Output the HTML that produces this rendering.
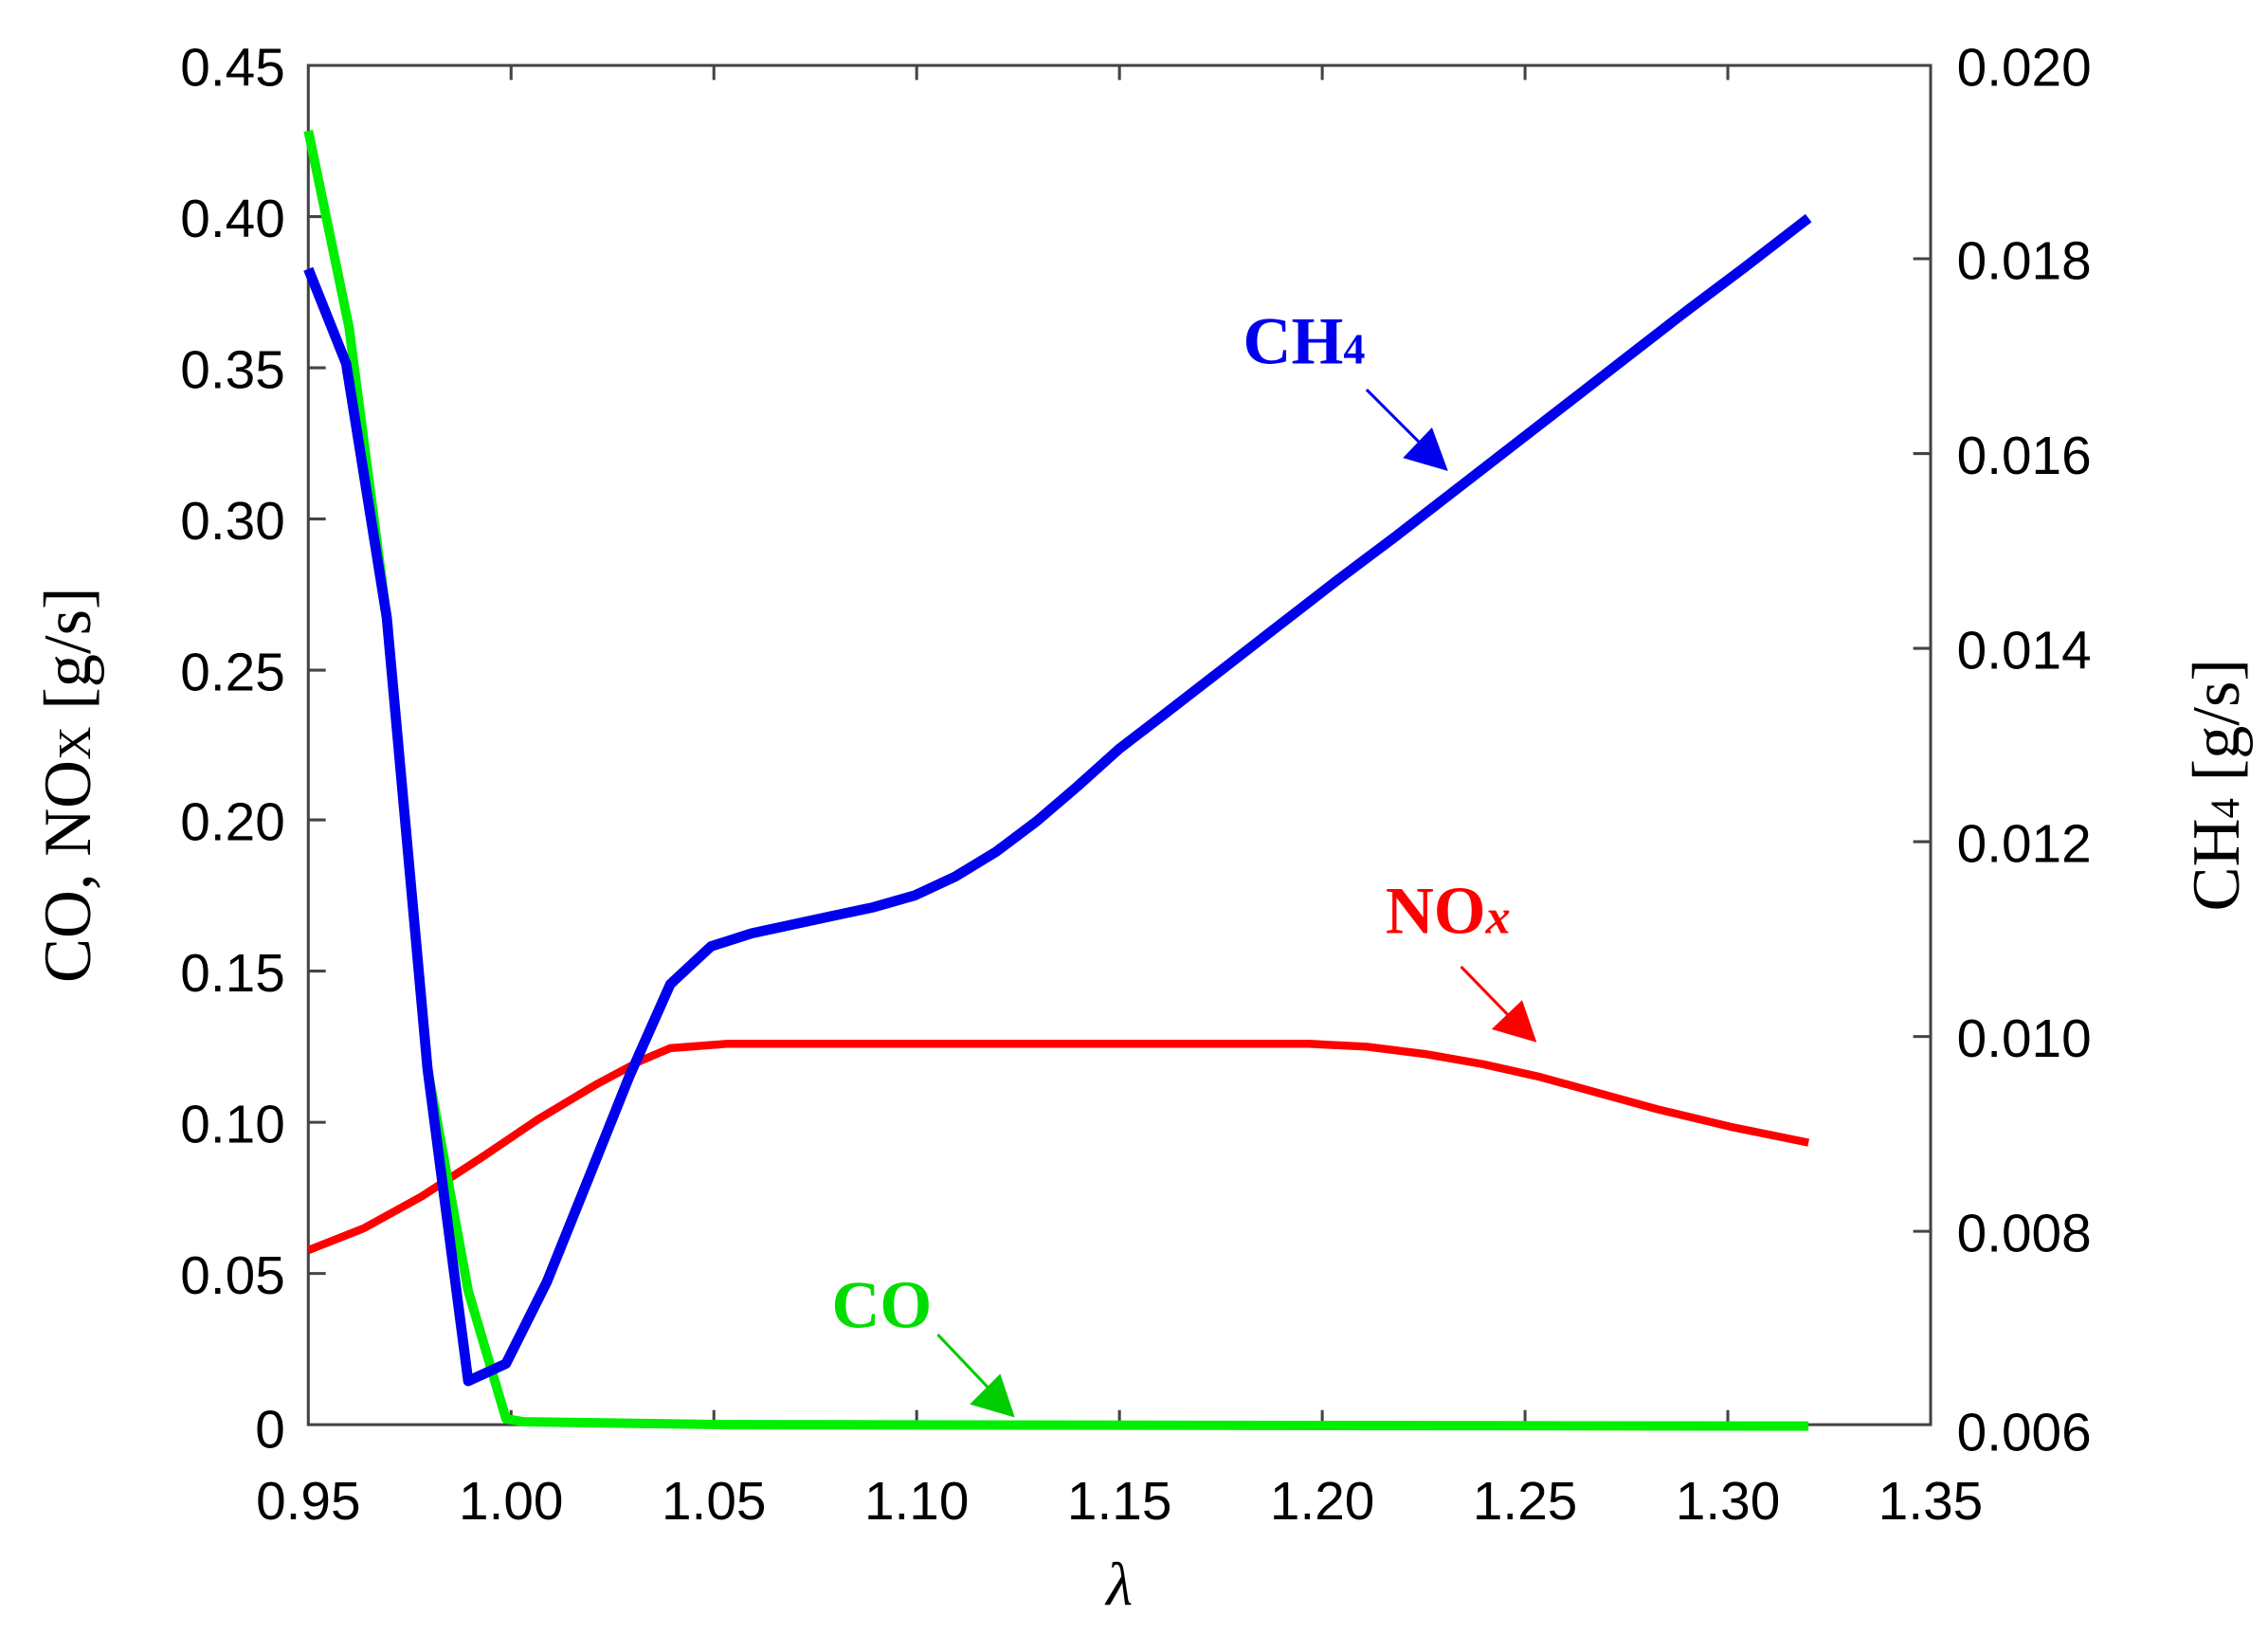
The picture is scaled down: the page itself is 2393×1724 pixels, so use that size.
<!DOCTYPE html>
<html><head><meta charset="utf-8"><style>
html,body{margin:0;padding:0;background:#fff;}
svg{display:block;}
.t{font-family:"Liberation Sans",Arial,sans-serif;font-size:37px;fill:#000;}
.s{font-family:"Liberation Serif","Times New Roman",serif;}
</style></head><body>
<svg width="2393" height="1724" viewBox="0 0 1560 1124" xmlns="http://www.w3.org/2000/svg">
<rect width="1560" height="1124" fill="#fff"/>
<g stroke="#444" stroke-width="2" fill="none">
<rect x="212" y="45" width="1116" height="935"/>
<path d="M212 45h12M212 149h12M212 253h12M212 357h12M212 461h12M212 564h12M212 668h12M212 772h12M212 876h12"/>
<path d="M1328 178h-12M1328 312h-12M1328 446h-12M1328 579h-12M1328 713h-12M1328 847h-12"/>
<path d="M351.5 980v-10M491 980v-10M630.5 980v-10M770 980v-10M909.5 980v-10M1049 980v-10M1188.5 980v-10"/>
<path d="M351.5 45v10M491 45v10M630.5 45v10M770 45v10M909.5 45v10M1049 45v10M1188.5 45v10"/>
</g>
<g class="t" text-anchor="end">
<text x="196" y="59">0.45</text><text x="196" y="163">0.40</text><text x="196" y="267">0.35</text>
<text x="196" y="371">0.30</text><text x="196" y="475">0.25</text><text x="196" y="578">0.20</text>
<text x="196" y="682">0.15</text><text x="196" y="786">0.10</text><text x="196" y="890">0.05</text>
<text x="196" y="996">0</text>
</g>
<g class="t">
<text x="1346" y="59">0.020</text><text x="1346" y="192">0.018</text><text x="1346" y="326">0.016</text>
<text x="1346" y="460">0.014</text><text x="1346" y="593">0.012</text><text x="1346" y="727">0.010</text>
<text x="1346" y="861">0.008</text><text x="1346" y="998">0.006</text>
</g>
<g class="t" text-anchor="middle">
<text x="212" y="1045">0.95</text><text x="351.5" y="1045">1.00</text><text x="491" y="1045">1.05</text>
<text x="630.5" y="1045">1.10</text><text x="770" y="1045">1.15</text><text x="909.5" y="1045">1.20</text>
<text x="1049" y="1045">1.25</text><text x="1188.5" y="1045">1.30</text><text x="1328" y="1045">1.35</text>
</g>
<text class="s" x="770" y="1104" font-size="42" font-style="italic" text-anchor="middle">λ</text>
<text class="s" transform="translate(62,540) rotate(-90)" font-size="46" text-anchor="middle">CO, NO<tspan font-size="32">X</tspan> [g/s]</text>
<text class="s" transform="translate(1540,540) rotate(-90)" font-size="46" text-anchor="middle">CH<tspan font-size="28">4</tspan> [g/s]</text>
<polyline fill="none" stroke="#ff0000" stroke-width="5.5" stroke-linejoin="round" points="212,860 250,845 290,823 330,797 370,770 410,746 440,730 461,721 500,718 600,718 700,718 800,718 900,718 940,720 980,725 1020,732 1060,741 1100,752 1140,763 1190,775 1244,786"/>
<polyline fill="none" stroke="#00ee00" stroke-width="6.5" stroke-linejoin="round" points="212,90 240,225 266,425 294,735 322,888 348,976 360,978 500,980 1244,981"/>
<polyline fill="none" stroke="#0000ee" stroke-width="7" stroke-linejoin="round" points="212,185 238,250 266,425 294,735 322,950 348,938 376,882 405,810 433,740 461,677 489,651 517,642 545,636 573,630 601,624 629,616 657,603 685,586 713,565 741,541 770,515 800,492 840,461 880,430 920,399 960,369 1000,338 1040,307 1080,276 1120,245 1160,214 1200,184 1244,150"/>
<text class="s" x="855" y="250" font-size="46" font-weight="bold" fill="#0000ee">CH<tspan font-size="30">4</tspan></text>
<line x1="940" y1="268" x2="980" y2="308" stroke="#0000ee" stroke-width="2"/>
<polygon points="996,324 965,315 985,294" fill="#0000ee"/>
<text class="s" x="953" y="642" font-size="46" font-weight="bold" fill="#ff0000">NO<tspan font-size="34" font-style="italic">x</tspan></text>
<line x1="1005" y1="665" x2="1042" y2="703" stroke="#ff0000" stroke-width="2"/>
<polygon points="1057,717 1026,708 1047,688" fill="#ff0000"/>
<text class="s" x="572" y="913" font-size="46" font-weight="bold" fill="#00dd00">CO</text>
<line x1="645" y1="918" x2="683" y2="958" stroke="#00cc00" stroke-width="2"/>
<polygon points="698,975 667,966 688,945" fill="#00cc00"/>
</svg>
</body></html>
